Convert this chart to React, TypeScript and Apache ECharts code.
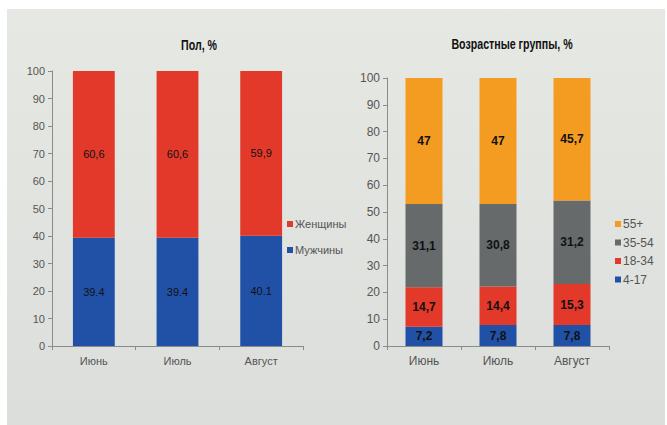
import React, { useEffect, useRef } from "react";
import * as echarts from "echarts";

// Months shown on both charts
const months = ["Июнь", "Июль", "Август"];

// Gender split, %
const men = [39.4, 39.4, 40.1];
const women = [60.6, 60.6, 59.9];

// Age groups, %
const age4to17 = [7.2, 7.8, 7.8];
const age18to34 = [14.7, 14.4, 15.3];
const age35to54 = [31.1, 30.8, 31.2];
const age55plus = [47, 47, 45.7];

const yTicks = { min: 0, max: 100, interval: 10 };

const FONT = "'Liberation Sans Narrow', 'Liberation Sans', Arial, sans-serif";
const RED = "#e2392a";
const BLUE = "#2151a6";
const ORANGE = "#f49c22";
const GREY = "#666a6b";
const AXIS = "#8a8c8a";
const TEXT = "#555";

const fmt = (sep: string) => (p: any) => String(p.value).replace(".", sep);

export default function App() {
  const ref = useRef<HTMLDivElement>(null);

  useEffect(() => {
    if (!ref.current) return;
    const chart = echarts.init(ref.current, undefined, { renderer: "svg" });

    const xAxisBase = (gridIndex: number, size: number) => ({
      type: "category" as const,
      gridIndex,
      data: months,
      axisLine: { lineStyle: { color: AXIS } },
      axisTick: { show: true, alignWithLabel: false, length: 4, lineStyle: { color: AXIS } },
      axisLabel: { color: TEXT, fontSize: size, fontFamily: FONT, margin: 9 },
    });
    const yAxisBase = (gridIndex: number, size: number) => ({
      type: "value" as const,
      gridIndex,
      ...yTicks,
      axisLine: { show: true, lineStyle: { color: AXIS } },
      axisTick: { show: true, length: 4, lineStyle: { color: AXIS } },
      axisLabel: { color: TEXT, fontSize: size, fontFamily: FONT, margin: 7 },
      splitLine: { show: false },
    });

    const leftBar = (name: string, data: number[], color: string, sep: string) => ({
      name,
      type: "bar" as const,
      stack: "gender",
      xAxisIndex: 0,
      yAxisIndex: 0,
      data,
      barWidth: "50%",
      itemStyle: { color },
      label: {
        show: true,
        position: "inside",
        color: "#111",
        fontSize: 11,
        fontFamily: FONT,
        formatter: fmt(sep),
      },
    });
    const rightBar = (name: string, data: number[], color: string) => ({
      name,
      type: "bar" as const,
      stack: "age",
      xAxisIndex: 1,
      yAxisIndex: 1,
      data,
      barWidth: "50%",
      itemStyle: { color },
      label: {
        show: true,
        position: "inside",
        color: "#111",
        fontSize: 12,
        fontWeight: "bold",
        fontFamily: FONT,
        formatter: fmt(","),
      },
    });

    const title = (text: string, x: number, y: number) => ({
      type: "text",
      x,
      y,
      scaleX: 0.76,
      style: {
        text,
        fontFamily: FONT,
        fontSize: 14,
        fontWeight: "bold",
        fill: "#111",
        textAlign: "center",
        textVerticalAlign: "middle",
      },
    });

    chart.setOption({
      animation: false,
      backgroundColor: "#ffffff",
      graphic: [
        {
          type: "rect",
          z: -10,
          silent: true,
          shape: { x: 7, y: 9, width: 658, height: 416 },
          style: {
            fill: new echarts.graphic.LinearGradient(0, 0, 0, 1, [
              { offset: 0, color: "#e6e8e4" },
              { offset: 1, color: "#dcdedb" },
            ]),
          },
        },
        title("Пол, %", 199, 45),
        title("Возрастные группы, %", 512, 44),
      ],
      legend: [
        {
          data: ["Женщины", "Мужчины"],
          orient: "vertical",
          left: 287,
          top: 218,
          icon: "rect",
          itemWidth: 6,
          itemHeight: 6,
          itemGap: 14,
          padding: 0,
          textStyle: { color: TEXT, fontSize: 11, fontFamily: FONT, lineHeight: 12, padding: [0, 0, 0, -3] },
        },
        {
          data: ["55+", "35-54", "18-34", "4-17"],
          orient: "vertical",
          left: 615,
          top: 218,
          icon: "rect",
          itemWidth: 6,
          itemHeight: 6,
          itemGap: 6.5,
          padding: 0,
          textStyle: { color: TEXT, fontSize: 12, fontFamily: FONT, lineHeight: 12, padding: [0, 0, 0, -3] },
        },
      ],
      grid: [
        { left: 52, right: 364, top: 71, bottom: 79 },
        { left: 387, right: 58, top: 78, bottom: 79 },
      ],
      xAxis: [xAxisBase(0, 11), xAxisBase(1, 12)],
      yAxis: [yAxisBase(0, 11), yAxisBase(1, 12)],
      series: [
        leftBar("Мужчины", men, BLUE, "."),
        leftBar("Женщины", women, RED, ","),
        rightBar("4-17", age4to17, BLUE),
        rightBar("18-34", age18to34, RED),
        rightBar("35-54", age35to54, GREY),
        rightBar("55+", age55plus, ORANGE),
      ],
    });

    return () => chart.dispose();
  }, []);

  return (
    <div
      ref={ref}
      style={{ position: "fixed", left: 0, top: 0, width: 667, height: 425 }}
    />
  );
}
